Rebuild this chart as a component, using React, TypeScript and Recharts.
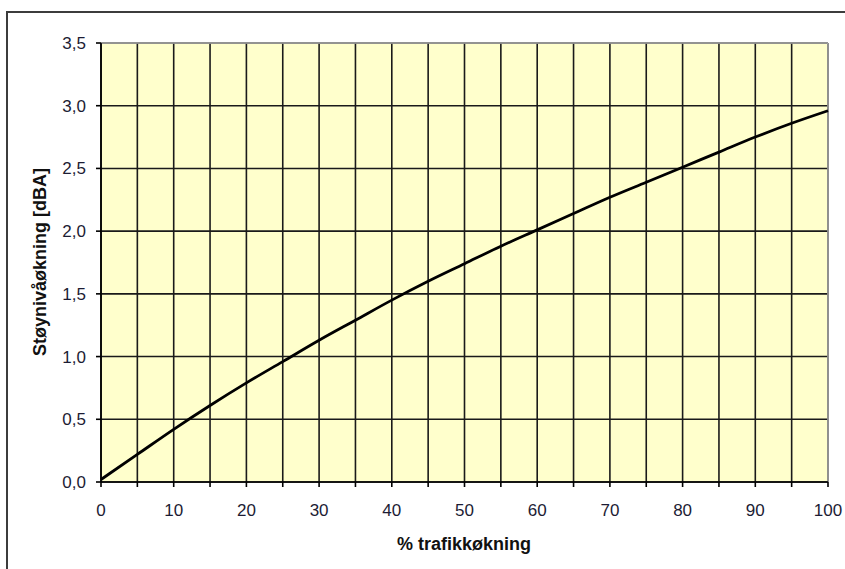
import React from 'react';
import { LineChart, Line, XAxis, YAxis, CartesianGrid, ReferenceLine } from 'recharts';

// % traffic increase (x) and noise level increase in dBA (y)
const trafikk = [0, 5, 10, 15, 20, 25, 30, 35, 40, 45, 50, 55, 60, 65, 70, 75, 80, 85, 90, 95, 100];
const stoy = [0.02, 0.22, 0.42, 0.61, 0.79, 0.96, 1.13, 1.29, 1.45, 1.6, 1.74, 1.88, 2.01, 2.14, 2.27, 2.39, 2.51, 2.63, 2.75, 2.86, 2.96];

const xTicks = [0, 5, 10, 15, 20, 25, 30, 35, 40, 45, 50, 55, 60, 65, 70, 75, 80, 85, 90, 95, 100];
const yTicks = [0, 0.5, 1, 1.5, 2, 2.5, 3, 3.5];

const data = trafikk.map((x, i) => ({ x, y: stoy[i] }));

const font = 'Arial, "Liberation Sans", sans-serif';
const tickStyle = { fontSize: 17, fill: '#1c1c34', fontFamily: font };

export default function App() {
  return (
    <div style={{ position: 'absolute', left: 0, top: 0, width: 845, height: 569, overflow: 'hidden', background: '#fff' }}>
      <div
        style={{
          position: 'absolute',
          left: 6,
          top: 11,
          width: 900,
          height: 700,
          border: '2px solid #3c3c3c',
        }}
      />
      <div style={{ position: 'absolute', left: 0, top: 0 }}>
        <LineChart width={845} height={569} data={data} margin={{ top: 43, right: 17, bottom: 57, left: 41 }}>
          <CartesianGrid fill="#FFFFCC" fillOpacity={1} stroke="#1a1a1a" strokeWidth={1.6} />
          <XAxis
            type="number"
            dataKey="x"
            domain={[0, 100]}
            ticks={xTicks}
            interval={0}
            height={30}
            tickFormatter={(v: number) => (v % 10 === 0 ? String(v) : '')}
            tick={tickStyle}
            tickSize={5}
            tickMargin={17}
            axisLine={{ stroke: '#000', strokeWidth: 1.6 }}
            tickLine={{ stroke: '#000', strokeWidth: 1.6 }}
            label={{
              content: () => (
                <text x={464} y={550} textAnchor="middle" fontFamily={font} fontSize={18} fontWeight="bold" fill="#111">
                  % trafikkøkning
                </text>
              ),
            }}
          />
          <YAxis
            type="number"
            domain={[0, 3.5]}
            ticks={yTicks}
            interval={0}
            width={60}
            tickFormatter={(v: number) => v.toFixed(1).replace('.', ',')}
            tick={tickStyle}
            tickSize={5}
            tickMargin={10}
            axisLine={{ stroke: '#000', strokeWidth: 1.6 }}
            tickLine={{ stroke: '#000', strokeWidth: 1.6 }}
            label={{
              content: () => (
                <text
                  x={46}
                  y={262}
                  textAnchor="middle"
                  transform="rotate(-90 46 262)"
                  fontFamily={font}
                  fontSize={18}
                  fontWeight="bold"
                  fill="#111"
                >
                  Støynivåøkning [dBA]
                </text>
              ),
            }}
          />
          <ReferenceLine y={3.5} stroke="#a8a8a8" strokeWidth={1.5} />
          <ReferenceLine x={100} stroke="#a8a8a8" strokeWidth={1.5} />
          <Line type="monotone" dataKey="y" stroke="#000" strokeWidth={2.8} dot={false} isAnimationActive={false} />
        </LineChart>
      </div>
    </div>
  );
}
